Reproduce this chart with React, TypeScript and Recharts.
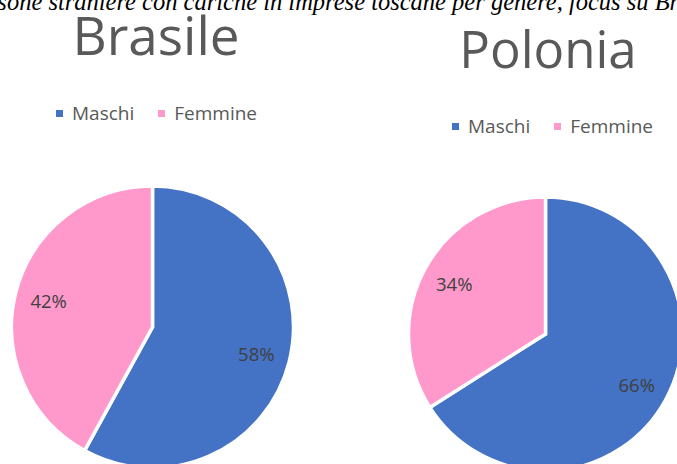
import { Cell, Legend, Pie, PieChart } from "recharts";

const series = ["Maschi", "Femmine"];
const brasileValues = [58, 42];
const poloniaValues = [66, 34];
const COLORS = ["#4472C4", "#FF99CC"];

const brasileData = series.map((name, i) => ({ name, value: brasileValues[i] }));
const poloniaData = series.map((name, i) => ({ name, value: poloniaValues[i] }));

const FONT = "'Open Sans', sans-serif";
const RADIAN = Math.PI / 180;

const renderLabel = (props: any) => {
	const { cx, cy, midAngle, outerRadius, percent } = props;
	const r = outerRadius * 0.76;
	const x = cx + r * Math.cos(-midAngle * RADIAN);
	const y = cy + r * Math.sin(-midAngle * RADIAN);
	return (
		<text
			x={x}
			y={y}
			fill="#404040"
			fontFamily={FONT}
			fontSize={18.5}
			textAnchor="middle"
			dominantBaseline="central"
		>
			{`${Math.round(percent * 100)}%`}
		</text>
	);
};

// keep legend in series order (recharts sorts the payload by name)
const renderLegend = (props: any) => {
	const payload = props.payload || [];
	return (
		<div
			style={{
				display: "flex",
				alignItems: "center",
				fontFamily: FONT,
				fontSize: 19,
				color: "#595959",
				whiteSpace: "nowrap",
			}}
		>
			{series.map((name, index) => {
				const entry = payload.find((p: any) => p.value === name);
				return (
					<span
						key={`item-${index}`}
						style={{ display: "flex", alignItems: "center", marginRight: 24 }}
					>
						<span
							style={{
								display: "inline-block",
								width: 7,
								height: 7,
								background: entry ? entry.color : COLORS[index],
								marginRight: 9,
							}}
						/>
						{name}
					</span>
				);
			})}
		</div>
	);
};

function CountryPie({ data, width, cx, cy, radius, legendTop, legendLeft }: any) {
	return (
		<PieChart
			width={width}
			height={464}
			margin={{ top: 0, right: 0, bottom: 0, left: 0 }}
		>
			<Legend
				layout="horizontal"
				verticalAlign="middle"
				content={renderLegend}
				wrapperStyle={{ top: legendTop, left: legendLeft, width: "auto" }}
			/>
			<Pie
				data={data}
				dataKey="value"
				nameKey="name"
				cx={cx}
				cy={cy}
				outerRadius={radius}
				startAngle={90}
				endAngle={-270}
				stroke="#FFFFFF"
				strokeWidth={3.5}
				label={renderLabel}
				labelLine={false}
				isAnimationActive={false}
			>
				{data.map((entry: any, index: number) => (
					<Cell key={`cell-${index}`} fill={COLORS[index % COLORS.length]} />
				))}
			</Pie>
		</PieChart>
	);
}

export default function App() {
	return (
		<div
			style={{
				position: "absolute",
				left: 0,
				top: 0,
				width: 677,
				height: 464,
				overflow: "hidden",
				background: "#FFFFFF",
			}}
		>
			<div style={{ position: "absolute", left: 0, top: 0 }}>
				<CountryPie
					data={brasileData}
					width={340}
					cx={152.5}
					cy={327}
					radius={141}
					legendTop={100}
					legendLeft={56}
				/>
			</div>
			<div style={{ position: "absolute", left: 340, top: 0 }}>
				<CountryPie
					data={poloniaData}
					width={337}
					cx={205.5}
					cy={334}
					radius={137}
					legendTop={113}
					legendLeft={112}
				/>
			</div>
			<svg
				width={677}
				height={464}
				style={{ position: "absolute", left: 0, top: 0, pointerEvents: "none" }}
			>
				<text
					x={-38}
					y={10}
					fontFamily="'Liberation Serif', serif"
					fontStyle="italic"
					fontSize={24.5}
					fill="#000000"
				>
					Persone straniere con cariche in imprese toscane per genere, focus su Brasile e Polonia
				</text>
				<text x={156} y={55} textAnchor="middle" fontFamily={FONT} fontSize={53} fill="#595959">
					Brasile
				</text>
				<text x={548} y={68} textAnchor="middle" fontFamily={FONT} fontSize={51} fill="#595959">
					Polonia
				</text>
			</svg>
		</div>
	);
}
